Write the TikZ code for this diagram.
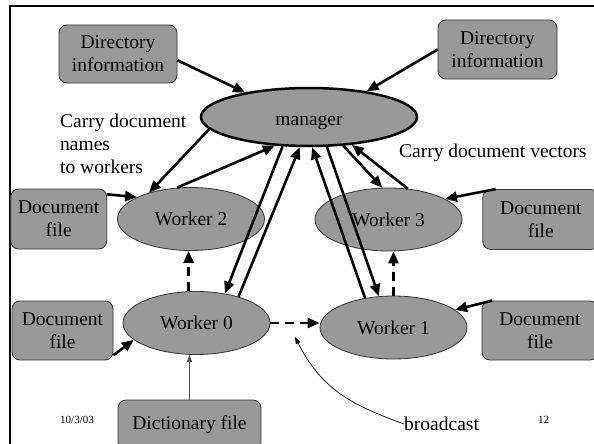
\documentclass[tikz,border=0pt]{standalone}
\usepackage{fontspec}
\setmainfont{Liberation Serif}
\usetikzlibrary{arrows.meta, positioning, shapes.geometric}
\definecolor{cFill}{HTML}{999999}
\tikzset{
  font=\fontsize{19.5}{23}\selectfont,
  filebox/.style={draw=black!80, fill=cFill, rounded corners=8pt, line width=0.8pt,
    align=center, inner sep=0pt, minimum width=96pt, minimum height=60pt},
  workernode/.style={ellipse, draw=black!80, fill=cFill, line width=0.8pt,
    minimum width=147pt, minimum height=63pt, inner sep=0pt},
  managernode/.style={workernode, draw=black, line width=2.5pt,
    minimum width=216pt, minimum height=58pt, text height=16pt, text depth=0pt},
  flow/.style={-{Triangle[length=12pt, width=10pt]}, line width=2.6pt},
  dashflow/.style={flow, dash pattern=on 9pt off 6pt},
  thinflow/.style={-{Triangle[length=7pt, width=5pt]}, line width=0.8pt, draw=black!70},
  notelabel/.style={align=left, inner sep=0pt},
  footlabel/.style={font=\fontsize{11}{13}\selectfont, inner sep=0pt},
}

\begin{document}
\begin{tikzpicture}[x=1pt, y=-1pt]

  \useasboundingbox (0,0) rectangle (594,444);
  \draw[line width=2.5pt] (10,444) -- (10,6) -- (594,6);

  % ==================================================================
  % Manager and the four workers
  % ==================================================================
  \node[managernode] (manager) at (309,117) {manager};

  \node[workernode] (w2) at (191,219) {Worker 2};
  \node[workernode] (w3) at (388.5,219.5) {Worker 3};
  \node[workernode] (w0) at (196.5,323) {Worker 0};
  \node[workernode] (w1) at (393.5,327.5) {Worker 1};

  % ==================================================================
  % Input files
  % ==================================================================
  \node[filebox, minimum width=118pt, minimum height=58pt] (dirleft) at (118,54)
    {Directory\\ information};
  \node[filebox, minimum width=119pt, minimum height=59pt] (dirright) at (497.5,49.5)
    {Directory\\ information};

  \node[filebox, left=10pt of w2] (docLT) {Document\\ file};
  \node[filebox, minimum width=101pt, minimum height=59pt] (docLB) at (62.5,330.5)
    {Document\\ file};
  \node[filebox, minimum width=116pt, right=20pt of w3] (docRT) {Document\\ file};
  \node[filebox, minimum width=116pt, minimum height=59pt] (docRB) at (540,330.5)
    {Document\\ file};

  \node[filebox, minimum width=143pt, minimum height=50pt] (dict) at (189.5,425)
    {Dictionary file};

  % ----------------------------------------------------------------
  % Labels
  % ----------------------------------------------------------------
  \node[notelabel, anchor=west] (namesnote) at (60,144)
    {Carry document\\ names\\ to workers};
  \node[notelabel, anchor=west] (vecnote) at (399,153) {Carry document vectors};
  \node[notelabel, anchor=west] (bcast) at (404,424) {broadcast};
  \node[footlabel, anchor=west] (date) at (60,420) {10/3/03};
  \node[footlabel, anchor=west] (page) at (538,420) {12};

  % ----------------------------------------------------------------
  % Arrows
  % ----------------------------------------------------------------
  \draw[flow] (dirleft.-6) -- (manager.159);
  \draw[flow] (dirright.west) -- (manager.24);

  \draw[flow] (manager.187) -- (w2.148);
  \draw[flow] (w2.114) -- (manager.220);
  \draw[flow] (manager.228) -- (w0.46);
  \draw[flow] (w0.32) -- (manager.253);
  \draw[flow] (w1.134) -- (manager.276);
  \draw[flow] (manager.301) -- (w1.115);
  \draw[flow] (manager.320) -- (w3.101);
  \draw[flow] (w3.58) -- (manager.327);

  \draw[flow] (docLT.27) -- (w2.158);
  \draw[flow] (docLB.-26) -- (w0.195);
  \draw[flow] (docRT.146) -- (w3.20);
  \draw[flow] (docRB.148) -- (w1.16);

  \draw[dashflow] (w0.104) -- (w0.104 |- w2.south);
  \draw[dashflow] (w0.east) -- (w0.east -| w1.west);
  \draw[dashflow] (w1.north) -- (w1.north |- w3.south);

  \draw[thinflow] (dict.north) -- (dict.north |- w0.south);

  \coordinate (bcasttip) at (295,337);
  \draw[thinflow, draw=black, line width=0.7pt] (bcast.west) .. controls (352,405) and (322,390) .. (bcasttip);

\end{tikzpicture}
\end{document}
